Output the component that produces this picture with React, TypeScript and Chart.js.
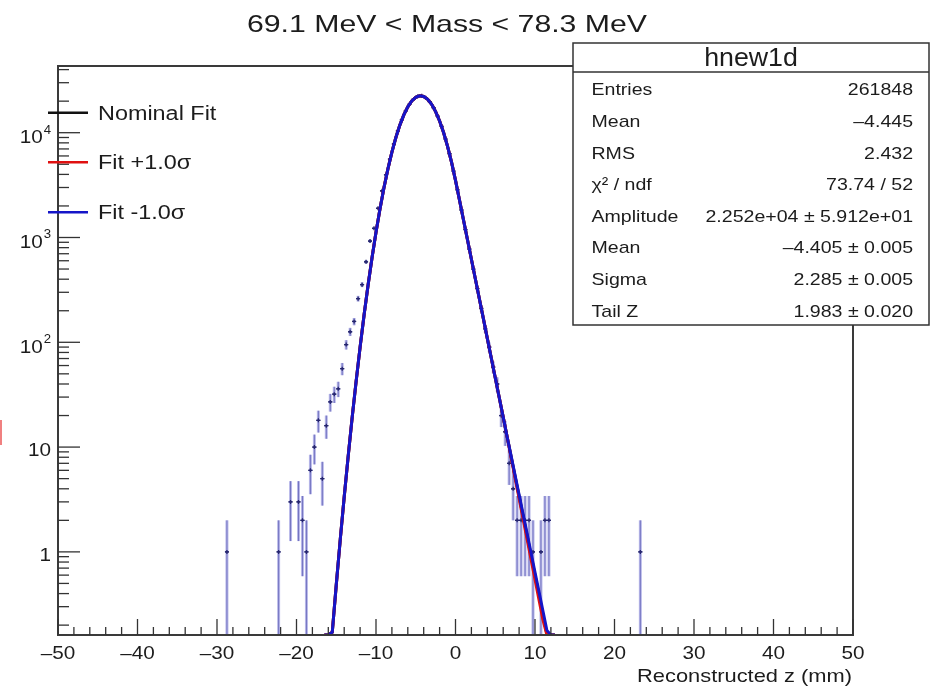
import React, { useEffect, useRef } from 'react';
import { Chart, registerables } from 'chart.js';

Chart.register(...registerables);

// ---------- data ----------
const TITLE = '69.1 MeV < Mass < 78.3 MeV';
const X_TITLE = 'Reconstructed z (mm)';
const X_MIN = -50;
const X_MAX = 50;
const Y_MIN = 0.161;
const Y_MAX = 43300;
const X_TICKS = [-50, -40, -30, -20, -10, 0, 10, 20, 30, 40, 50];
const Y_DECADES = [0, 1, 2, 3, 4];
const BIN_WIDTH = 0.5;

const BIN_CENTERS = [
  -28.75, -22.25, -20.75, -19.75, -19.25, -18.75, -18.25, -17.75, -17.25, -16.75,
  -16.25, -15.75, -15.25, -14.75, -14.25, -13.75, -13.25, -12.75, -12.25, -11.75,
  -11.25, -10.75, -10.25, -9.75, -9.25, -8.75, -8.25, -7.75, -7.25, -6.75,
  -6.25, -5.75, -5.25, -4.75, -4.25, -3.75, -3.25, -2.75, -2.25, -1.75,
  -1.25, -0.75, -0.25, 0.25, 0.75, 1.25, 1.75, 2.25, 2.75, 3.25,
  3.75, 4.25, 4.75, 5.25, 5.75, 6.25, 6.75, 7.25, 7.75, 8.25,
  8.75, 9.25, 9.75, 10.75, 11.25, 11.75, 23.25,
];
const BIN_COUNTS = [
  1, 1, 3, 3, 2, 1, 6, 10, 18, 5,
  16, 27, 32, 36, 56, 95, 126, 158, 261, 355,
  586, 925, 1222, 1900, 2786, 3965, 5600, 7800, 10400, 13300,
  16200, 18900, 21000, 22300, 22500, 21600, 19800, 17300, 14400, 11500,
  8700, 6300, 4300, 2850, 1830, 1190, 775, 498, 325, 210,
  134, 90, 58, 40, 20, 14, 7, 4, 2, 2,
  2, 2, 1, 1, 2, 2, 1,
];

// fitted curves: shared core, then the three tails
const FIT_CORE_X = [
  -16.5, -16, -15.5, -15, -14.5, -14, -13.5, -13, -12.5, -12,
  -11.5, -11, -10.5, -10, -9.5, -9, -8.5, -8, -7.5, -7,
  -6.5, -6, -5.5, -5, -4.5, -4, -3.5, -3, -2.5, -2,
  -1.5, -1, -0.5, 0, 0.5, 1, 1.5, 2, 2.5, 3,
  3.5, 4, 4.5, 5, 5.5, 6, 6.5,
];
const FIT_CORE = [
  0.161, 0.161, 0.171, 0.483, 1.3, 3.34, 8.17, 19.1, 42.4, 89.8,
  182, 350, 642, 1123, 1875, 2982, 4522, 6535, 9000, 11820,
  14800, 17660, 20080, 21770, 22500, 22170, 20820, 18640, 15910, 12940,
  10040, 7420, 5230, 3512, 2279, 1477, 957, 620, 402, 260,
  169, 109, 70.8, 45.9, 29.7, 19.3, 12.5,
];
const FIT_TAIL_X = [7, 7.5, 8, 8.5, 9, 9.5, 10, 10.5, 11, 11.5, 12, 12.5];
const TAIL_NOMINAL = [8.09, 5.24, 3.4, 2.2, 1.43, 0.924, 0.599, 0.388, 0.251, 0.163, 0.161, 0.161];
const TAIL_PLUS = [7.9, 5.06, 3.24, 2.07, 1.33, 0.85, 0.545, 0.35, 0.224, 0.161, 0.161, 0.161];
const TAIL_MINUS = [8.2, 5.36, 3.5, 2.29, 1.5, 0.98, 0.64, 0.418, 0.273, 0.178, 0.161, 0.161];

const LEGEND_LABELS = ['Nominal Fit', 'Fit +1.0σ', 'Fit -1.0σ'];
const LEGEND_COLORS = ['#111111', '#e01010', '#1515c8'];

const STATS_TITLE = 'hnew1d';
const STATS_LABELS = ['Entries', 'Mean', 'RMS', 'χ² / ndf', 'Amplitude', 'Mean', 'Sigma', 'Tail Z'];
const STATS_VALUES = [
  '261848',
  '\u20134.445',
  '2.432',
  '73.74 / 52',
  '2.252e+04 \u00b1 5.912e+01',
  '\u20134.405 \u00b1 0.005',
  '2.285 \u00b1 0.005',
  '1.983 \u00b1 0.020',
];

// ---------- helpers ----------
const FONT = '"Liberation Sans", Arial, Helvetica, sans-serif';
const TEXT = '#1c1c1c';

function drawText(
  ctx: CanvasRenderingContext2D,
  s: string,
  x: number,
  y: number,
  size: number,
  align: CanvasTextAlign,
  sx: number,
) {
  ctx.save();
  ctx.font = `${size}px ${FONT}`;
  ctx.fillStyle = TEXT;
  ctx.textAlign = align;
  ctx.textBaseline = 'alphabetic';
  ctx.translate(x, y);
  ctx.scale(sx, 1);
  ctx.fillText(s, 0, 0);
  ctx.restore();
}

function textWidth(ctx: CanvasRenderingContext2D, s: string, size: number, sx: number) {
  ctx.save();
  ctx.font = `${size}px ${FONT}`;
  const w = ctx.measureText(s).width * sx;
  ctx.restore();
  return w;
}

function seg(ctx: CanvasRenderingContext2D, x1: number, y1: number, x2: number, y2: number) {
  ctx.beginPath();
  ctx.moveTo(x1, y1);
  ctx.lineTo(x2, y2);
  ctx.stroke();
}

function pts(xs: number[], ys: number[]) {
  return xs.map((x, i) => ({ x, y: ys[i] }));
}

const rootPlugin = {
  id: 'rootStyle',
  beforeDatasetsDraw(chart: any) {
    const ctx: CanvasRenderingContext2D = chart.ctx;
    const xs = chart.scales.x;
    const ys = chart.scales.y;
    const a = chart.chartArea;
    ctx.save();
    ctx.beginPath();
    ctx.rect(a.left, a.top, a.right - a.left, a.bottom - a.top);
    ctx.clip();
    BIN_CENTERS.forEach((c, i) => {
      const n = BIN_COUNTS[i];
      const e = Math.sqrt(n);
      const px = xs.getPixelForValue(c);
      const top = ys.getPixelForValue(n + e);
      const bot = n - e > 0 ? ys.getPixelForValue(n - e) : a.bottom + 5;
      ctx.strokeStyle = 'rgba(125,125,215,0.55)';
      ctx.lineWidth = 3;
      seg(ctx, px, top, px, bot);
      ctx.strokeStyle = 'rgba(60,60,160,0.55)';
      ctx.lineWidth = 1;
      seg(ctx, px, top, px, bot);
      const py = ys.getPixelForValue(n);
      ctx.strokeStyle = '#25256e';
      ctx.lineWidth = 1.3;
      seg(ctx, xs.getPixelForValue(c - BIN_WIDTH / 2), py, xs.getPixelForValue(c + BIN_WIDTH / 2), py);
    });
    ctx.restore();
  },
  afterDraw(chart: any) {
    const ctx: CanvasRenderingContext2D = chart.ctx;
    const xs = chart.scales.x;
    const ys = chart.scales.y;
    const a = chart.chartArea;
    ctx.save();

    // frame
    ctx.strokeStyle = '#3a3a3a';
    ctx.lineWidth = 2;
    ctx.strokeRect(a.left, a.top, a.right - a.left, a.bottom - a.top);

    // x ticks
    ctx.lineWidth = 1.3;
    ctx.strokeStyle = '#333';
    for (let v = X_MIN; v <= X_MAX; v += 2) {
      const px = xs.getPixelForValue(v);
      const len = v % 10 === 0 ? 16 : 8;
      seg(ctx, px, a.bottom, px, a.bottom - len);
    }
    // y ticks
    for (let e = -1; e <= 4; e++) {
      for (let k = 1; k <= 9; k++) {
        const v = k * Math.pow(10, e);
        if (v < Y_MIN || v > Y_MAX) continue;
        const py = ys.getPixelForValue(v);
        const len = k === 1 ? 22 : 11;
        seg(ctx, a.left, py, a.left + len, py);
      }
    }

    // x labels
    X_TICKS.forEach((v) => {
      const px = xs.getPixelForValue(v);
      const s = v < 0 ? '\u2013' + Math.abs(v) : String(v);
      drawText(ctx, s, px, 659, 18, 'center', 1.15);
    });
    // y labels
    Y_DECADES.forEach((e) => {
      const py = ys.getPixelForValue(Math.pow(10, e));
      const right = 51;
      if (e === 0) drawText(ctx, '1', right, py + 9, 18, 'right', 1.15);
      else if (e === 1) drawText(ctx, '10', right, py + 9, 18, 'right', 1.15);
      else {
        const sup = String(e);
        const ws = textWidth(ctx, sup, 12, 1.1);
        drawText(ctx, sup, right, py + 1, 12, 'right', 1.1);
        drawText(ctx, '10', right - ws - 1, py + 10.5, 18, 'right', 1.15);
      }
    });

    // titles
    drawText(ctx, TITLE, 447, 31.5, 24, 'center', 1.26);
    drawText(ctx, X_TITLE, 852, 682, 19, 'right', 1.15);

    // legend
    const legendY = [112.7, 162.3, 212.3];
    LEGEND_LABELS.forEach((lab, i) => {
      ctx.strokeStyle = LEGEND_COLORS[i];
      ctx.lineWidth = 2.5;
      seg(ctx, 48, legendY[i], 88, legendY[i]);
      drawText(ctx, lab, 98, legendY[i] + 7, 19.5, 'left', 1.2);
    });

    // stats box
    const bx = 573, by = 43, bw = 356, bh = 282;
    ctx.fillStyle = '#ffffff';
    ctx.fillRect(bx, by, bw, bh);
    ctx.strokeStyle = '#333';
    ctx.lineWidth = 1.5;
    ctx.strokeRect(bx, by, bw, bh);
    seg(ctx, bx, 72, bx + bw, 72);
    drawText(ctx, STATS_TITLE, bx + bw / 2, 66, 25, 'center', 1.07);
    STATS_LABELS.forEach((lab, i) => {
      const y = 95.3 + i * 31.63;
      drawText(ctx, lab, 591.5, y, 17, 'left', 1.15);
      drawText(ctx, STATS_VALUES[i], 913, y, 17, 'right', 1.15);
    });

    ctx.restore();
  },
};

export default function App() {
  const ref = useRef<HTMLCanvasElement>(null);
  useEffect(() => {
    const canvas = ref.current;
    if (!canvas) return;
    const chart = new Chart(canvas, {
      type: 'scatter',
      data: {
        datasets: [
          {
            label: LEGEND_LABELS[2],
            data: pts(FIT_CORE_X.concat(FIT_TAIL_X), FIT_CORE.concat(TAIL_MINUS)),
            showLine: true,
            borderColor: LEGEND_COLORS[2],
            borderWidth: 3,
            pointRadius: 0,
            order: 0,
          },
          {
            label: LEGEND_LABELS[1],
            data: pts(FIT_CORE_X.concat(FIT_TAIL_X), FIT_CORE.concat(TAIL_PLUS)),
            showLine: true,
            borderColor: LEGEND_COLORS[1],
            borderWidth: 3,
            pointRadius: 0,
            order: 1,
          },
          {
            label: LEGEND_LABELS[0],
            data: pts(FIT_CORE_X.concat(FIT_TAIL_X), FIT_CORE.concat(TAIL_NOMINAL)),
            showLine: true,
            borderColor: LEGEND_COLORS[0],
            borderWidth: 3,
            pointRadius: 0,
            order: 2,
          },
          {
            label: 'data',
            data: pts(BIN_CENTERS, BIN_COUNTS),
            showLine: false,
            pointStyle: 'cross',
            pointRadius: 2,
            borderColor: '#25256e',
            borderWidth: 1.3,
            order: 3,
          },
        ],
      },
      options: {
        responsive: false,
        animation: false,
        devicePixelRatio: 1,
        layout: { padding: { left: 58, right: 79, top: 66, bottom: 51 } },
        plugins: { legend: { display: false }, title: { display: false }, tooltip: { enabled: false } },
        events: [],
        scales: {
          x: { type: 'linear', min: X_MIN, max: X_MAX, display: false },
          y: { type: 'logarithmic', min: Y_MIN, max: Y_MAX, display: false },
        },
      },
      plugins: [rootPlugin],
    });
    return () => chart.destroy();
  }, []);

  return (
    <div style={{ position: 'absolute', left: 0, top: 0, width: 932, height: 686, background: '#ffffff' }}>
      <canvas ref={ref} width={932} height={686} style={{ width: 932, height: 686, display: 'block' }} />
      <div style={{ position: 'absolute', left: 0, top: 420, width: 2, height: 25, background: '#f08080' }} />
    </div>
  );
}
